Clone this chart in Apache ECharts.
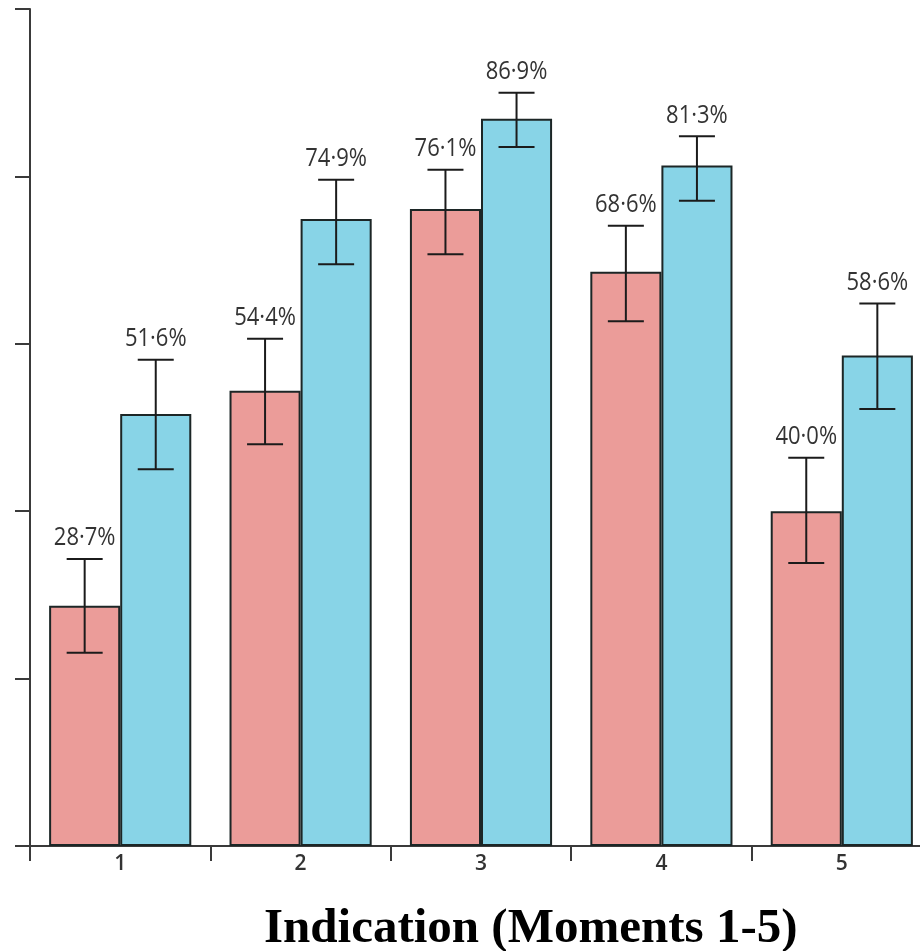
<!DOCTYPE html>
<html>
<head>
<meta charset="utf-8">
<script src="https://cdn.jsdelivr.net/npm/echarts@6/dist/echarts.min.js"></script>
<style>
  html, body { margin: 0; padding: 0; background: #fff; overflow: hidden; }
  /* plot runs slightly past the right edge of the window */
  #chart { width: 932px; height: 951px; }
</style>
</head>
<body>
<div id="chart"></div>
<script>
// Moments of indication, two groups per moment (percent with confidence limits)
const categories = ['1', '2', '3', '4', '5'];
const groupA = [28.7, 54.4, 76.1, 68.6, 40.0];
const groupB = [51.6, 74.9, 86.9, 81.3, 58.6];
const groupALow = [23.1, 48.0, 70.7, 62.7, 33.8];
const groupAHigh = [34.3, 60.6, 80.8, 74.1, 46.4];
const groupBLow = [45.0, 69.5, 83.5, 77.1, 52.2];
const groupBHigh = [58.1, 79.6, 90.0, 84.8, 64.8];
const yTicks = [0, 20, 40, 60, 80, 100];

const BAR_FRAC = 0.394;          // each bar's share of a category band
const AXIS_COLOR = '#3a3a3a';
const LABEL_FONT = '"Open Sans", "DejaVu Sans", sans-serif';

function fmt(v) {
  return v.toFixed(1).replace('.', '\u00B7') + '%';
}

function errorData(values, low, high) {
  return values.map((v, i) => [i, low[i], high[i], v]);
}

// whisker + cap + value label, shifted onto the bar of the given side (-1 left, +1 right)
function makeErrorRenderer(side) {
  return function (params, api) {
    const idx = api.value(0);
    const top = api.coord([idx, api.value(2)]);
    const bottom = api.coord([idx, api.value(1)]);
    const band = api.size([1, 0])[0];
    const x = top[0] + side * band * BAR_FRAC / 2;
    const cap = 18;
    const lineStyle = { stroke: '#1b1b1b', lineWidth: 2 };
    return {
      type: 'group',
      children: [
        { type: 'line', shape: { x1: x, y1: top[1], x2: x, y2: bottom[1] }, style: lineStyle },
        { type: 'line', shape: { x1: x - cap, y1: top[1], x2: x + cap, y2: top[1] }, style: lineStyle },
        { type: 'line', shape: { x1: x - cap, y1: bottom[1], x2: x + cap, y2: bottom[1] }, style: lineStyle },
        {
          type: 'text',
          x: x,
          y: top[1] - 8,
          scaleY: 1.15,
          style: {
            text: fmt(api.value(3)),
            align: 'center',
            verticalAlign: 'bottom',
            fill: '#333',
            font: '22px ' + LABEL_FONT
          }
        }
      ]
    };
  };
}

const chart = echarts.init(document.getElementById('chart'), null, { renderer: 'canvas' });

chart.setOption({
  animation: false,
  backgroundColor: '#ffffff',
  title: {
    text: 'Indication (Moments 1-5)',
    left: 259,
    top: 900,
    textStyle: {
      fontFamily: '"Liberation Serif", "Times New Roman", serif',
      fontWeight: 'bold',
      fontSize: 49,
      color: '#000'
    }
  },
  grid: { left: 30, right: 0, top: 9, bottom: 105, containLabel: false },
  xAxis: {
    type: 'category',
    data: categories,
    axisLine: { lineStyle: { color: AXIS_COLOR, width: 2 } },
    axisTick: { show: true, length: 15, lineStyle: { color: AXIS_COLOR, width: 2 } },
    axisLabel: { color: '#333', fontSize: 21, fontFamily: LABEL_FONT, fontWeight: 600, margin: 8 },
    splitLine: { show: false }
  },
  yAxis: {
    type: 'value',
    min: yTicks[0],
    max: yTicks[yTicks.length - 1],
    interval: 20,
    axisLine: { show: true, lineStyle: { color: AXIS_COLOR, width: 2 } },
    axisTick: { show: true, length: 15, lineStyle: { color: AXIS_COLOR, width: 2 } },
    axisLabel: { show: false },
    splitLine: { show: false }
  },
  series: [
    {
      name: 'A',
      type: 'bar',
      data: groupA,
      barWidth: (BAR_FRAC * 100) + '%',
      barGap: '0%',
      itemStyle: { color: '#EB9C99', borderColor: '#1c2626', borderWidth: 2 }
    },
    {
      name: 'B',
      type: 'bar',
      data: groupB,
      barWidth: (BAR_FRAC * 100) + '%',
      barGap: '0%',
      itemStyle: { color: '#88D4E7', borderColor: '#1c2626', borderWidth: 2 }
    },
    {
      name: 'A error',
      type: 'custom',
      renderItem: makeErrorRenderer(-1),
      data: errorData(groupA, groupALow, groupAHigh),
      encode: { x: 0, y: [1, 2] },
      z: 10
    },
    {
      name: 'B error',
      type: 'custom',
      renderItem: makeErrorRenderer(1),
      data: errorData(groupB, groupBLow, groupBHigh),
      encode: { x: 0, y: [1, 2] },
      z: 10
    }
  ]
});
</script>
</body>
</html>
